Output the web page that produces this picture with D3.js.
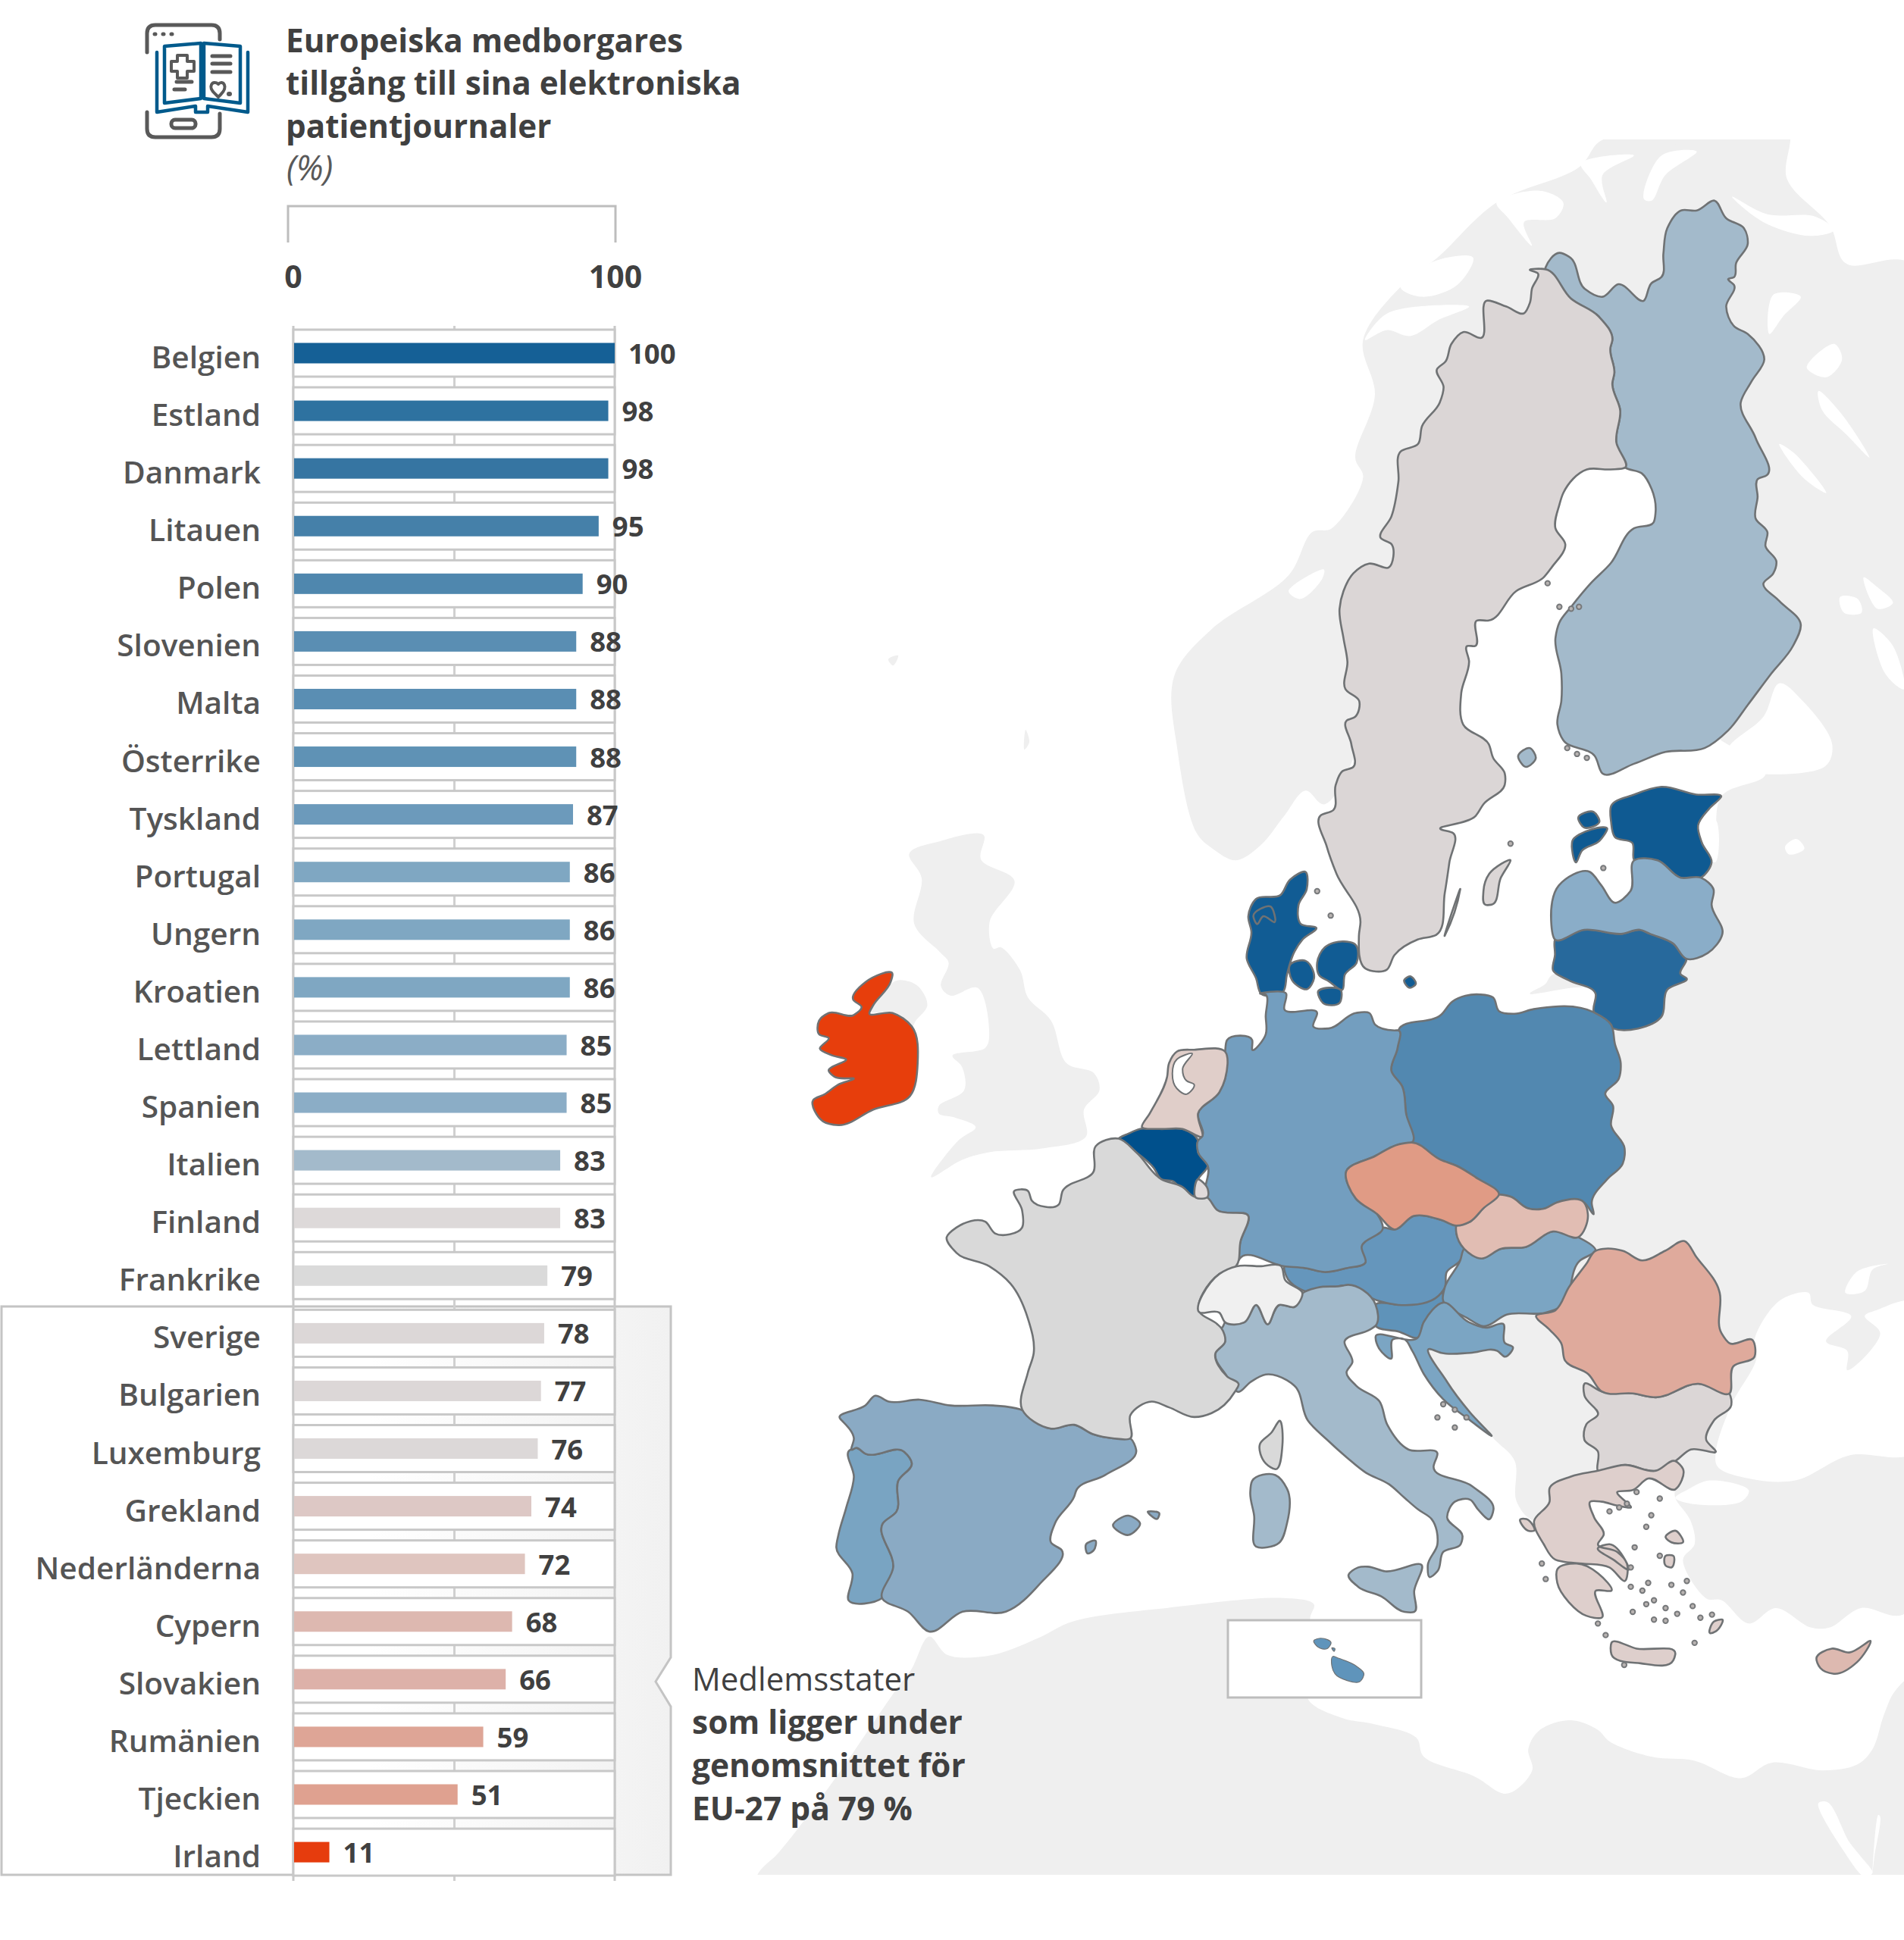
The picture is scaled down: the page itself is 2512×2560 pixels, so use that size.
<!DOCTYPE html>
<html lang="sv">
<head>
<meta charset="utf-8">
<title>Europeiska medborgares tillgång till sina elektroniska patientjournaler</title>
<script src="https://cdn.jsdelivr.net/npm/d3@7"></script>
<style>
  html, body { margin: 0; background: #fff; }
  svg { display: block; }
  text { font-family: "Open Sans", sans-serif; }
</style>
</head>
<body>
<svg id="chart" width="2512" height="2560"></svg>
<script>
// Bar chart data
const countries = ["Belgien","Estland","Danmark","Litauen","Polen","Slovenien","Malta","Österrike","Tyskland","Portugal","Ungern","Kroatien","Lettland","Spanien","Italien","Finland","Frankrike","Sverige","Bulgarien","Luxemburg","Grekland","Nederländerna","Cypern","Slovakien","Rumänien","Tjeckien","Irland"];
const shares = [100,98,98,95,90,88,88,88,87,86,86,86,85,85,83,83,79,78,77,76,74,72,68,66,59,51,11];
const barColors = ["#156096","#2e72a0","#3675a2","#4580a9","#4f87ae","#5a8eb3","#5a8eb3","#5f92b5","#6c9abb","#7fa7c2","#7fa7c2","#7fa7c2","#8badc6","#8badc6","#a3bacb","#ddd9d9","#dadada","#dcd7d7","#dcd7d7","#dcd8d8","#ddc8c5","#dfc5bf","#ddb8b0","#ddb1a9","#dea596","#dfa190","#e63c0d"];
const axisTicks = [0, 100];

// Map fill per member state, same order as the countries list
const mapColors = ["#00508c","#0f5a92","#115c94","#27699c","#5288b0","#5f93b9","#5f94bb","#6596bc","#739ebf","#79a4c2","#7ba5c3","#7ba5c3","#8aadc8","#8aaac4","#a3bacb","#a3bacb","#d9d9d9","#dbd6d6","#dbd6d6","#e0dada","#decfcc","#e0cec9","#ddb9b0","#e1bdb3","#dfaa9c","#e09b85","#e73e0c"];

// Map geometry is surveyed on local sheets; each sheet has its own origin and unit size
const sheet = (x0, y0, k) => pts => pts.map(([a, b]) => [x0 + a * k, y0 + b * k]);
const A = sheet(1700, 200, 812 / 1568);
const B = sheet(1600, 1000, 800 / 1568);
const C = sheet(1050, 1250, 800 / 1568);
const D = sheet(1700, 1650, 800 / 1568);
const G = sheet(0, 0, 2512 / 1539);

const outlines = {
  "Belgien": [C([[835,495],[860,482],[890,470],[945,470],[1000,470],[1040,500],[1040,530],[1065,565],[1040,600],[1030,645],[1000,630],[975,605],[945,600],[925,570],[880,530]])],
  "Estland": [
    B([[1030,125],[1090,95],[1160,75],[1250,95],[1315,100],[1285,130],[1255,175],[1265,220],[1290,270],[1262,310],[1210,310],[1150,265],[1090,265],[1085,220],[1040,205],[1030,165]]),
    B([[930,215],[1020,185],[1000,215],[955,240],[940,270]]),
    B([[945,155],[985,140],[1000,165],[960,180]])
  ],
  "Danmark": [
    B([[240,295],[243,340],[222,380],[228,430],[268,440],[232,470],[212,500],[192,560],[182,605],[125,610],[112,570],[88,520],[100,450],[92,410],[112,365],[175,355],[200,315]]),
    B([[270,530],[290,490],[340,475],[368,482],[372,530],[342,560],[335,600],[300,578],[275,562]]),
    B([[200,535],[240,525],[262,570],[245,598],[205,575]]),
    B([[272,606],[332,602],[328,634],[285,634]]),
    B([[495,575],[510,565],[525,585],[510,595]]),
    B([[105,410],[150,385],[160,425],[130,410],[115,430]])
  ],
  "Litauen": [B([[885,470],[960,445],[1060,455],[1105,445],[1130,455],[1190,480],[1225,520],[1210,560],[1225,570],[1175,600],[1160,670],[1100,700],[1035,700],[985,655],[990,610],[920,575],[880,550],[885,510]])],
  "Polen": [B([[480,705],[590,665],[620,630],[690,612],[725,620],[740,655],[780,662],[830,650],[985,658],[1030,690],[1040,740],[1055,790],[1050,830],[1015,870],[1035,900],[1030,950],[1065,1010],[1060,1050],[1020,1090],[980,1150],[985,1180],[960,1150],[890,1150],[860,1165],[815,1165],[770,1135],[740,1130],[680,1085],[630,1055],[590,1040],[515,995],[500,920],[490,850],[462,810],[478,750]])],
  "Slovenien": [D([[225,140],[290,140],[400,115],[400,135],[350,185],[335,225],[285,210],[225,195]])],
  "Malta": [
    D([[112,1075],[115,1050],[130,1055],[175,1075],[195,1095],[185,1115],[150,1112],[120,1095]]),
    D([[65,1010],[85,1003],[110,1015],[100,1030],[75,1025]]),
    D([[112,1028],[120,1030],[118,1037]])
  ],
  "Österrike": [B([[375,1265],[440,1215],[470,1220],[520,1185],[590,1195],[630,1210],[630,1230],[650,1270],[640,1300],[605,1330],[600,1370],[590,1385],[480,1415],[430,1405],[340,1365],[260,1385],[190,1340],[185,1315],[240,1320],[290,1330],[345,1320],[395,1305]])],
  "Tyskland": [[
    ...B([[125,610],[190,610],[185,650],[270,660],[260,695],[300,700],[370,660],[405,660],[420,690],[470,705],[480,705],[478,750],[462,810],[490,850],[500,920],[515,995],[480,1000],[420,1030],[345,1070],[370,1140],[425,1180],[440,1215],[385,1265],[395,1305],[345,1320],[290,1330],[240,1320],[185,1315],[70,1295]]),
    ...C([[1138,825],[1150,760],[1170,695],[1090,680],[1060,645],[1065,565],[1040,530],[1040,500],[1050,490],[1040,430],[1095,375],[1110,340],[1110,270],[1115,240],[1180,240],[1180,265],[1215,225],[1215,180],[1210,120]])
  ]],
  "Portugal": [[
    ...C([[140,1300],[155,1295],[180,1310],[280,1305],[300,1335],[265,1380],[260,1460],[225,1490]]),
    ...G([[722,1267],[713,1292],[686,1294],[689,1272],[676,1251]]),
    ...C([[110,1520],[130,1450],[150,1370]])
  ]],
  "Ungern": [B([[650,1270],[695,1295],[745,1270],[810,1265],[880,1225],[945,1240],[990,1275],[950,1300],[900,1420],[860,1435],[760,1440],[700,1470],[660,1450],[595,1400],[600,1370],[640,1300]])],
  "Kroatien": [D([[400,135],[465,185],[510,200],[555,190],[560,240],[580,250],[560,275],[540,260],[470,265],[395,265],[365,255],[410,340],[470,420],[525,480],[470,440],[400,385],[350,320],[320,260],[300,230],[270,230],[265,280],[235,255],[225,225],[335,225],[350,185]])],
  "Lettland": [B([[975,295],[1005,330],[1040,375],[1080,345],[1090,265],[1150,265],[1210,310],[1262,310],[1295,340],[1290,380],[1318,455],[1280,505],[1225,520],[1190,480],[1130,455],[1105,445],[1060,455],[960,445],[885,470],[875,420],[895,330]])],
  "Spanien": [
    [
      ...C([[115,1220],[180,1185],[205,1160],[240,1175],[320,1170],[400,1185],[510,1185],[580,1195],[660,1245],[720,1235],[770,1260],[820,1270],[865,1270],[880,1300],[800,1365],[725,1405],[720,1420],[670,1490],[660,1540]]),
      ...G([[858,1253],[840,1281],[813,1303],[778,1303],[751,1319],[734,1303],[713,1292],[722,1267]]),
      ...C([[225,1490],[260,1460],[265,1380],[300,1335],[280,1305],[180,1310],[155,1295],[145,1300],[150,1270],[120,1225]])
    ],
    C([[820,1495],[860,1470],[890,1490],[860,1520]]),
    C([[910,1460],[940,1465],[935,1478]]),
    C([[750,1545],[775,1535],[770,1560],[755,1568]])
  ],
  "Italien": [
    [
      ...C([[1100,985],[1110,970],[1160,970],[1190,925],[1220,975],[1250,925],[1290,930],[1310,895],[1350,880],[1415,875]]),
      ...D([[145,90],[225,140],[225,195],[210,205],[145,235],[165,290],[150,315],[175,350],[235,390],[255,450],[310,515],[385,525],[375,560],[475,610],[530,670],[520,695],[490,670],[470,645],[430,650],[410,690],[450,740],[445,760],[400,780],[385,830],[365,845],[360,815],[385,760],[370,695],[335,670],[300,640],[260,605],[200,575],[150,535],[100,490],[50,440],[15,350]]),
      ...C([[1270,1120],[1215,1105],[1175,1125],[1145,1150],[1115,1110],[1085,1050],[1110,1020],[1095,985]])
    ],
    D([[155,840],[180,820],[205,818],[250,830],[345,815],[325,880],[325,935],[300,935],[240,895],[180,870]]),
    C([[1180,1380],[1240,1365],[1270,1400],[1270,1490],[1250,1540],[1190,1550],[1185,1470],[1175,1410]])
  ],
  "Finland": [
    A([[655,295],[690,258],[715,268],[755,350],[800,370],[840,338],[905,380],[925,335],[950,320],[955,260],[965,195],[1000,150],[1040,150],[1085,125],[1115,170],[1160,195],[1170,235],[1140,285],[1135,320],[1120,325],[1135,340],[1115,395],[1135,445],[1170,465],[1212,530],[1180,585],[1152,640],[1190,730],[1218,825],[1195,835],[1195,880],[1190,935],[1220,970],[1215,1005],[1243,1045],[1235,1075],[1210,1100],[1250,1145],[1305,1205],[1285,1260],[1230,1330],[1170,1410],[1120,1475],[1060,1520],[960,1530],[880,1560],[800,1585],[780,1540],[700,1500],[685,1460],[695,1400],[695,1330],[680,1240],[690,1200],[720,1160],[770,1100],[820,1050],[880,960],[930,945],[935,920],[925,860],[900,820],[858,805],[835,740],[845,660],[825,590],[830,565],[820,500],[825,480],[790,420],[720,375]]),
    A([[585,1540],[615,1520],[630,1545],[605,1568]])
  ],
  "Frankrike": [
    C([[775,515],[835,495],[880,530],[945,600],[1000,620],[1030,645],[1060,645],[1090,680],[1170,695],[1150,760],[1138,825],[1095,845],[1045,945],[1090,975],[1100,985],[1110,1020],[1085,1050],[1115,1110],[1145,1130],[1135,1150],[1075,1205],[1030,1215],[965,1190],[920,1175],[865,1210],[865,1270],[820,1270],[770,1260],[720,1235],[660,1245],[585,1195],[600,1100],[615,1050],[600,960],[555,870],[500,825],[415,790],[390,750],[415,725],[490,710],[515,740],[585,725],[585,680],[565,630],[600,630],[610,655],[680,665],[690,630],[770,580]]),
    C([[1250,1225],[1258,1290],[1240,1350],[1215,1335],[1200,1285],[1230,1255]])
  ],
  "Sverige": [
    [
      ...A([[615,302],[635,310],[620,350],[615,385],[600,412],[555,395],[505,380],[490,475],[445,460],[415,490],[400,535],[378,555],[395,600],[385,640],[340,700],[330,745],[285,765],[280,840],[262,930],[235,985],[262,1000],[255,1060],[205,1050],[165,1075],[140,1120],[130,1165],[140,1240],[150,1300],[145,1370],[180,1400],[170,1440],[148,1450],[160,1510],[165,1568]]),
      ...B([[335,35],[318,70],[312,135],[278,150],[295,230],[320,300],[382,425],[378,460],[395,545],[450,548],[470,510],[530,470],[578,458],[600,350],[612,270],[622,195],[590,185],[680,150],[700,120],[755,70],[755,40],[725,0]]),
      ...A([[510,1510],[445,1460],[440,1380],[460,1300],[455,1260],[475,1260],[480,1195],[510,1195],[580,1120],[650,1085],[670,1060],[705,1000],[680,960],[690,900],[700,870],[760,810],[820,810],[858,805],[835,740],[845,660],[825,590],[830,565],[820,500],[825,480],[790,420],[720,375],[655,300]])
    ],
    B([[700,345],[715,300],[770,265],[745,310],[720,380],[705,380]]),
    B([[600,460],[640,340],[625,400]])
  ],
  "Bulgarien": [D([[765,345],[810,365],[890,370],[950,380],[1060,345],[1140,370],[1145,400],[1100,440],[1080,490],[1105,520],[1040,515],[1000,545],[950,570],[870,555],[800,570],[800,520],[765,490],[770,450],[800,425],[765,375]])],
  "Luxemburg": [C([[1040,600],[1065,625],[1065,645],[1035,648]])],
  "Grekland": [
    D([[675,615],[730,585],[800,570],[870,555],[950,570],[1000,545],[1020,565],[1000,618],[930,590],[890,620],[850,625],[885,665],[850,660],[810,650],[780,650],[790,690],[815,735],[800,760],[850,780],[875,810],[870,855],[830,820],[760,810],[710,805],[690,800],[660,760],[635,700],[675,650]]),
    D([[695,825],[745,810],[800,835],[835,880],[795,880],[810,950],[770,945],[725,910],[695,860]]),
    D([[800,770],[830,760],[870,800],[880,825],[840,800]]),
    D([[835,1015],[900,1030],[1000,1045],[995,1060],[910,1068],[835,1045]]),
    D([[975,742],[1000,725],[1020,755],[990,755]]),
    D([[1090,990],[1100,960],[1122,955],[1105,985]]),
    D([[975,790],[995,790],[990,820],[975,815]]),
    D([[600,695],[615,695],[635,725],[620,725]])
  ],
  "Nederländerna": [C([[985,270],[1030,265],[1110,270],[1110,340],[1095,375],[1040,430],[1050,490],[1000,470],[940,470],[895,465],[915,430],[960,335],[965,300]])],
  "Cypern": [D([[1505,1010],[1450,1040],[1405,1030],[1365,1055],[1375,1080],[1410,1095],[1470,1065]])],
  "Slovakien": [B([[740,1130],[770,1135],[815,1165],[860,1165],[890,1150],[960,1150],[970,1180],[945,1240],[880,1225],[810,1265],[745,1270],[695,1295],[650,1270],[630,1230],[630,1210],[665,1200],[700,1165]])],
  "Rumänien": [[
    ...B([[990,1275],[1010,1270],[1060,1275],[1110,1300],[1170,1275],[1220,1250],[1250,1290],[1310,1380]]),
    ...D([[1115,110],[1120,215],[1140,240],[1200,232],[1205,275],[1150,300],[1140,370],[1060,345],[950,380],[890,370],[810,365],[775,320],[715,285],[705,240],[675,205],[640,170],[690,155],[725,95],[770,35]])
  ]],
  "Tjeckien": [B([[345,1070],[420,1030],[480,1000],[515,995],[590,1040],[630,1055],[680,1085],[740,1130],[700,1165],[665,1200],[630,1210],[590,1195],[520,1185],[470,1220],[425,1180],[370,1140]])],
  "Irland": [C([[60,190],[85,170],[150,175],[170,155],[148,135],[180,90],[250,70],[245,90],[200,150],[190,170],[250,170],[300,205],[315,300],[295,385],[200,420],[110,460],[70,450],[45,395],[75,380],[110,355],[150,340],[100,335],[85,320],[130,290],[95,280],[62,262],[85,235],[60,225]])]
};
const schweiz = C([[1140,825],[1200,825],[1255,825],[1265,860],[1310,895],[1290,930],[1250,925],[1220,975],[1190,925],[1160,970],[1110,970],[1095,945],[1045,945],[1095,845]]);
const ijsselmeer = C([[985,290],[1025,275],[1000,315],[1010,345],[1030,355],[1010,380],[985,365]]);

// Neighbouring land, then the seas and lakes cut back out of it
const landRings = [
  // Norway, running under Sweden and Finland on its inland side
  [...A([[800,-30],[740,40],[530,130],[380,270],[300,330],[190,480],[220,620],[170,780],[190,830],[110,960],[60,970],[0,1080]]),
   ...G([[979,509],[949,547],[952,608],[967,673]]),
   ...B([[0,235],[60,265],[125,225],[185,150],[240,85],[290,120]]),
   ...A([[300,1200],[600,500],[1000,400],[1000,-30]])],
  // Russia, Ukraine, the Balkans and Turkey
  [...A([[1000,-60],[1270,-60],[1270,70],[1380,190],[1420,285],[1600,295]]),
   ...D([[1600,935],[1480,925],[1400,975],[1350,975],[1260,925],[1190,965],[1120,905],[1080,900],[1020,800],[1050,760],[1040,700],[1000,640],[1000,618],[1020,565],[800,600],[640,700],[590,650],[585,545],[525,480],[365,255],[500,200]]),
   ...B([[800,1300],[1000,1000],[1000,700],[985,600],[820,610],[860,585],[880,560],[1100,560],[1200,300],[1290,270],[1315,100],[1430,40]]),
   ...A([[1000,1400],[1100,500]])],
  // Great Britain
  [...G([[760,680],[795,675],[793,695],[820,712],[800,745],[803,767]]),
   ...C([[530,0],[580,60],[600,130],[660,190],[700,300],[770,325],[785,370],[745,420],[750,490],[640,520],[500,530],[430,550],[350,595],[420,500],[465,465],[410,440],[370,430],[370,410],[435,370],[430,310],[405,280],[490,260],[500,220],[470,105],[400,125],[375,100],[395,40]]),
   ...G([[760,770],[739,747],[745,710],[735,690]])],
  // Northern Ireland
  C([[190,165],[245,95],[270,85],[315,100],[340,150],[310,190],[300,205],[250,170]]),
  // North Africa and the Levant, running past the bottom edge of the map frame
  [...G([[751,1323],[766,1338],[802,1338],[840,1324],[867,1311],[943,1300],[1038,1292],[1062,1297],[1059,1308],[1060,1340]]),
   ...D([[50,1160],[140,1210],[220,1225],[330,1260],[350,1310],[480,1360],[565,1405],[630,1345],[620,1290],[650,1240],[730,1215],[800,1240],[830,1270],[940,1310],[1050,1320],[1170,1365],[1250,1325],[1380,1345],[1470,1330],[1510,1290],[1540,1200],[1568,1140],[1620,1100],[1620,1700],[1510,1700]]),
   ...G([[600,1560],[612,1516],[630,1497],[672,1442],[725,1365],[737,1349]])],
  // Faroe Islands and Orkney
  G([[718,533],[726,530],[722,538]]),
  G([[829,590],[832,600],[828,606]])
];
const waterRings = [
  // Black Sea and Sea of Azov
  D([[1205,230],[1270,130],[1345,110],[1355,140],[1455,170],[1390,235],[1445,260],[1445,310],[1530,215],[1490,170],[1520,155],[1620,135],[1620,520],[1450,530],[1310,595],[1190,590],[1110,560],[1105,520],[1145,400],[1210,280]]),
  D([[1000,640],[1040,655],[1170,650],[1190,620],[1090,595],[1030,620]]),
  D([[1440,110],[1470,55],[1550,35],[1510,50],[1490,105]]),
  // Gulf of Finland, Ladoga and the Karelian lakes
  A([[1120,1520],[1210,1440],[1250,1355],[1310,1400],[1385,1510],[1365,1568],[1120,1568]]),
  B([[1255,175],[1300,160],[1300,270],[1270,250]]),
  B([[1480,230],[1510,210],[1530,235],[1490,250]]),
  A([[1235,365],[1305,370],[1260,420],[1225,465]]),
  A([[1320,550],[1390,490],[1410,530],[1370,575]]),
  A([[1350,610],[1410,670],[1480,780],[1420,720],[1360,660]]),
  A([[1250,745],[1290,770],[1370,870],[1310,830]]),
  A([[1465,1085],[1500,1110],[1540,1150],[1500,1165]]),
  A([[1405,1135],[1450,1140],[1460,1175],[1415,1175]]),
  A([[1490,1215],[1540,1260],[1568,1370],[1520,1330]]),
  A([[1130,115],[1220,160],[1340,165],[1390,200],[1330,215],[1210,180]]),
  // Norwegian fjords
  A([[195,480],[240,420],[290,400],[460,395],[380,430],[310,470],[250,455]]),
  A([[285,345],[370,280],[470,270],[430,340],[340,370]]),
  A([[530,130],[640,100],[700,130],[680,170],[600,180],[620,240],[560,170]]),
  A([[745,30],[880,10],[800,60],[810,130],[770,70]]),
  A([[905,120],[950,10],[1040,0],[960,60],[925,125]]),
  A([[0,1120],[90,1065],[85,1090],[30,1140]]),
  A([[65,935],[110,945],[90,965]]),
  // Gulfs of Suez and Aqaba
  D([[1370,1430],[1395,1428],[1450,1530],[1480,1568],[1510,1610],[1490,1620],[1440,1560]]),
  D([[1525,1460],[1530,1465],[1515,1568],[1510,1610]])
];

// Small islands drawn as outlined dots
const aegeanIslets = D([[960,642],[938,685],[925,715],[895,768],[960,790],[1050,1015],[990,865],[1030,855],[1045,920],[945,905],[925,915],[890,935],[975,925],[1005,940],[945,955],[975,958],[1020,885],[1065,950],[1095,942],[885,870],[915,880],[800,965],[820,995],[868,1072],[655,810],[665,850],[900,625],[855,665],[830,675],[875,655],[885,820],[930,860],[385,432],[430,458],[400,398],[430,412],[460,432]]);
const balticIslets = [...A([[690,1160],[720,1165],[740,1160],[710,1520],[735,1535],[760,1545],[660,1100]]), ...B([[270,345],[305,408],[770,222],[1010,285]])];

const svg = d3.select("#chart");
const defs = svg.append("defs");
const fade = defs.append("linearGradient").attr("id", "panelFade");
fade.append("stop").attr("offset", "0").attr("stop-color", "#ffffff");
fade.append("stop").attr("offset", "0.55").attr("stop-color", "#ffffff");
fade.append("stop").attr("offset", "1").attr("stop-color", "#f1f1f1");
defs.append("clipPath").attr("id", "mapFrame").append("rect")
  .attr("x", 0).attr("y", 184).attr("width", 2512).attr("height", 2290);

// Map layer: coastlines and borders follow curves through the surveyed points
const soft = d3.line().curve(d3.curveCatmullRomClosed.alpha(0.5));
const tight = d3.line().curve(d3.curveCatmullRomClosed.alpha(1));
const multi = rings => rings.map(tight).join("");
const pointPath = d3.geoPath(d3.geoIdentity()).pointRadius(3.2);
const map = svg.append("g").attr("class", "map");

const backdrop = map.append("g").attr("clip-path", "url(#mapFrame)");
backdrop.selectAll("path.land").data(landRings).join("path")
  .attr("class", "land").attr("d", soft).attr("fill", "#efefef");
backdrop.selectAll("path.water").data(waterRings).join("path")
  .attr("class", "water").attr("d", soft).attr("fill", "#fff");

const border = {stroke: "#6f7274", width: 2.6};
const memberStates = countries.map((name, i) => ({name, fill: mapColors[i]}));
map.selectAll("path.member")
  .data(memberStates.filter(d => d.name !== "Malta")).join("path")
  .attr("class", "member")
  .attr("d", d => multi(outlines[d.name]))
  .attr("fill", d => d.fill)
  .attr("stroke", border.stroke).attr("stroke-width", border.width).attr("stroke-linejoin", "round");
map.append("path").attr("d", tight(schweiz))
  .attr("fill", "#f0f0f0").attr("stroke", border.stroke).attr("stroke-width", border.width).attr("stroke-linejoin", "round");
map.append("path").attr("d", tight(ijsselmeer))
  .attr("fill", "#fff").attr("stroke", border.stroke).attr("stroke-width", 2);
map.append("path").attr("d", pointPath({type: "MultiPoint", coordinates: [...aegeanIslets, ...balticIslets]}))
  .attr("fill", "#b8b3b1").attr("stroke", "#77797b").attr("stroke-width", 2);

// Inset for Malta
map.append("rect")
  .attr("x", 1620).attr("y", 2138).attr("width", 255).attr("height", 102)
  .attr("fill", "#fff").attr("stroke", "#bdbdbd").attr("stroke-width", 3);
map.append("path")
  .attr("d", multi(outlines["Malta"]))
  .attr("fill", mapColors[countries.indexOf("Malta")])
  .attr("stroke", border.stroke).attr("stroke-width", 1.2).attr("stroke-linejoin", "round");

// Panel behind the below-average countries, with its notch towards the note
const panel = {left: 2, top: 1724, right: 885, bottom: 2474, notchTop: 2187, notchTip: 2219, notchBottom: 2252, notchX: 865};
svg.append("path")
  .attr("d", d3.line()([
    [panel.left, panel.top], [panel.right, panel.top], [panel.right, panel.notchTop],
    [panel.notchX, panel.notchTip], [panel.right, panel.notchBottom], [panel.right, panel.bottom],
    [panel.left, panel.bottom]
  ]) + "Z")
  .attr("fill", "url(#panelFade)").attr("stroke", "#c4c4c4").attr("stroke-width", 3);

// Bars
const x = d3.scaleLinear().domain([0, 100]).range([388, 811]);
const rowStep = 76.08;
const y = d3.scalePoint().domain(countries).range([466, 466 + rowStep * (countries.length - 1)]);
const barHeight = 27, frameHeight = 62;
const chart = svg.append("g");

// Tick marks between rows, and the two vertical axis lines
const tickYs = [430, 2482];
chart.selectAll("line.vaxis").data([0, 100]).join("line")
  .attr("class", "vaxis")
  .attr("x1", d => x(d) - (d === 0 ? 1 : 0)).attr("x2", d => x(d) - (d === 0 ? 1 : 0))
  .attr("y1", tickYs[0]).attr("y2", tickYs[1])
  .attr("stroke", "#c8c8c8").attr("stroke-width", 3);
chart.append("line")
  .attr("x1", x(50)).attr("x2", x(50)).attr("y1", tickYs[0]).attr("y2", tickYs[1])
  .attr("stroke", "#d0d0d0").attr("stroke-width", 3);

const rows = chart.selectAll("g.row").data(countries).join("g").attr("class", "row");
rows.append("rect")
  .attr("x", x(0) - 1).attr("width", x(100) - x(0) + 1)
  .attr("y", d => y(d) - frameHeight / 2).attr("height", frameHeight)
  .attr("fill", "#fff").attr("stroke", "#c8c8c8").attr("stroke-width", 3);
rows.append("rect")
  .attr("x", x(0))
  .attr("y", d => y(d) - barHeight / 2)
  .attr("height", barHeight)
  .attr("width", (d, i) => x(shares[i]) - x(0))
  .attr("fill", (d, i) => barColors[i]);
rows.append("text")
  .attr("x", 344).attr("y", d => y(d) + 20)
  .attr("text-anchor", "end")
  .attr("font-size", 40.6).attr("font-weight", 600).attr("fill", "#555555")
  .text(d => d);
rows.append("text")
  .attr("x", (d, i) => x(shares[i]) + 18).attr("y", d => y(d) + 14)
  .attr("font-size", 36.5).attr("font-weight", 700).attr("fill", "#404040")
  .text((d, i) => shares[i]);

// Top axis bracket and its labels
const axisTop = 272, axisBottom = 320;
chart.append("path")
  .attr("d", d3.line()([[380, axisBottom], [380, axisTop], [812, axisTop], [812, axisBottom]]))
  .attr("fill", "none").attr("stroke", "#bdbdbd").attr("stroke-width", 3);
chart.selectAll("text.tick").data(axisTicks).join("text")
  .attr("class", "tick")
  .attr("x", d => x(d) + (d === 0 ? -1 : 1)).attr("y", 380)
  .attr("text-anchor", "middle")
  .attr("font-size", 41).attr("font-weight", 700).attr("fill", "#404040")
  .text(d => d);

// Heading
const titleLines = ["Europeiska medborgares", "tillgång till sina elektroniska", "patientjournaler"];
svg.selectAll("text.title").data(titleLines).join("text")
  .attr("class", "title")
  .attr("x", 377).attr("y", (d, i) => 68.5 + i * 56.5)
  .attr("font-size", 42.2).attr("font-weight", 700).attr("fill", "#404040")
  .text(d => d);
svg.append("text")
  .attr("x", 378).attr("y", 238)
  .attr("font-size", 45).attr("font-style", "italic").attr("fill", "#595959")
  .text("(%)");

// Note beside the panel
const noteLines = [["Medlemsstater", 400], ["som ligger under", 700], ["genomsnittet för", 700], ["EU-27 på 79 %", 700]];
svg.selectAll("text.note").data(noteLines).join("text")
  .attr("class", "note")
  .attr("x", 913).attr("y", (d, i) => 2231 + i * 57)
  .attr("font-size", d => d[1] === 400 ? 42 : 42.5).attr("font-weight", d => d[1]).attr("fill", "#404040")
  .text(d => d[0]);

// Icon: tablet holding an open health record
const icon = svg.append("g").attr("fill", "none").attr("stroke-linecap", "round").attr("stroke-linejoin", "round");
const grey = icon.append("g").attr("stroke", "#595959").attr("stroke-width", 5);
grey.append("path").attr("d", "M194 69V44Q194 33 205 33H279Q290 33 290 44V52M194 148V170Q194 181 205 181H279Q290 181 290 170V150");
grey.append("rect").attr("x", 226).attr("y", 158).attr("width", 32).attr("height", 11).attr("rx", 5);
grey.append("path").attr("d", "M204 45h1M215 45h1M226 45h1");
grey.append("path").attr("stroke-width", 4).attr("d", "M234 73h13v8h9v13h-9v9h-13v-9h-8v-13h8z");
grey.append("path").attr("stroke-width", 5).attr("d", "M233 108h20M230 118h14M280 74h24M280 84h24M280 95h24");
grey.append("path").attr("stroke-width", 4).attr("d", "M288 111c-7-6-16 3-3 14l3 3l3-3c11-11 3-20-3-14z");
grey.append("path").attr("stroke-width", 6).attr("d", "M302 124h1");
const blue = icon.append("g").attr("stroke", "#005a8c").attr("stroke-width", 4.5);
blue.append("path").attr("d", "M217 136V61L265 57V130ZM317 136V61L269 57V130Z");
blue.append("path").attr("d", "M207 69V148L258 140V148H274V140L327 148V69");
</script>
</body>
</html>
